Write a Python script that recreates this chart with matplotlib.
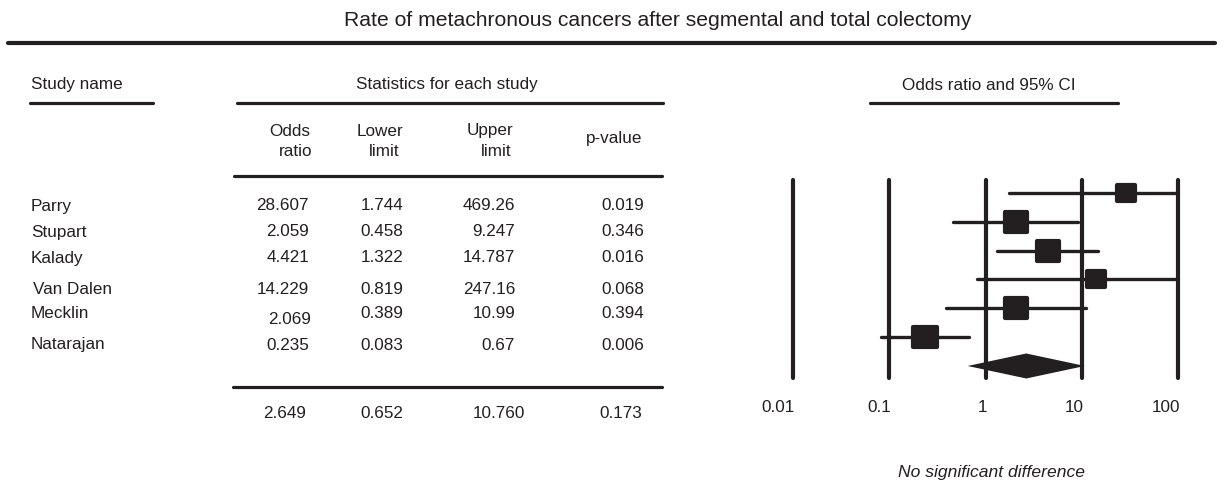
import numpy as np
import matplotlib
matplotlib.use("Agg")
import matplotlib.pyplot as plt
from matplotlib.markers import MarkerStyle
from matplotlib.path import Path
from matplotlib.transforms import blended_transform_factory, ScaledTranslation

plt.rcParams['font.family'] = ['Liberation Sans', 'DejaVu Sans']

# ---------------- data ----------------
title = "Rate of metachronous cancers after segmental and total colectomy"
studies = ["Parry", "Stupart", "Kalady", "Van Dalen", "Mecklin", "Natarajan"]
odds_ratio_txt = ["28.607", "2.059", "4.421", "14.229", "2.069", "0.235"]
lower_txt = ["1.744", "0.458", "1.322", "0.819", "0.389", "0.083"]
upper_txt = ["469.26", "9.247", "14.787", "247.16", "10.99", "0.67"]
p_txt = ["0.019", "0.346", "0.016", "0.068", "0.394", "0.006"]
summary_txt = ["2.649", "0.652", "10.760", "0.173"]   # OR, lower, upper, p
box_weight = [22, 27, 27, 23, 27, 28]                 # relative square size (as drawn)
tick_vals = [0.01, 0.1, 1, 10, 100]
tick_labels = ["0.01", "0.1", "1", "10", "100"]
footer = "No significant difference"

odds_ratio = [float(s) for s in odds_ratio_txt]
lower = [float(s) for s in lower_txt]
upper = [float(s) for s in upper_txt]
sum_or, sum_lo, sum_hi = (float(s) for s in summary_txt[:3])

INK = "#231f20"
W, H = 1225, 492
fig = plt.figure(figsize=(W / 100, H / 100), dpi=100)
fig.patch.set_facecolor("white")

# overlay axes in pixel units for table text and rules
ax0 = fig.add_axes([0, 0, 1, 1])
ax0.set_xlim(0, W)
ax0.set_ylim(H, 0)
ax0.axis("off")

TFS = 12.3
def rule(x0, x1, y, lw=2.3):
    ax0.plot([x0, x1], [y, y], color=INK, lw=lw, solid_capstyle="round")

ax0.text(658, 20, title, ha="center", va="center", fontsize=15.2, color=INK)
rule(8, 1215, 43, lw=3.0)

ax0.text(31, 85, "Study name", ha="left", va="center", fontsize=TFS, color=INK)
rule(30, 153, 103)
ax0.text(447, 85, "Statistics for each study", ha="center", va="center", fontsize=TFS, color=INK)
rule(237, 663, 103)
ax0.text(989, 85, "Odds ratio and 95% CI", ha="center", va="center", fontsize=TFS, color=INK)
rule(870, 1118, 103)

# column headers
col_right = [309, 403, 515, 644]
ax0.text(310, 131, "Odds", ha="right", va="center", fontsize=TFS, color=INK)
ax0.text(312, 151, "ratio", ha="right", va="center", fontsize=TFS, color=INK)
ax0.text(403, 131, "Lower", ha="right", va="center", fontsize=TFS, color=INK)
ax0.text(400, 151, "limit", ha="right", va="center", fontsize=TFS, color=INK)
ax0.text(513, 131, "Upper", ha="right", va="center", fontsize=TFS, color=INK)
ax0.text(512, 151, "limit", ha="right", va="center", fontsize=TFS, color=INK)
ax0.text(642, 139, "p-value", ha="right", va="center", fontsize=TFS, color=INK)
rule(234, 662, 176)

# table rows
row_y = [206, 232, 258, 289, 314, 345]
name_dx = [0, 0, 0, 2, 0, 0]
for i, name in enumerate(studies):
    y = row_y[i]
    ax0.text(31 + name_dx[i], y, name, ha="left", va="center", fontsize=TFS, color=INK)
    for j, col in enumerate([odds_ratio_txt, lower_txt, upper_txt, p_txt]):
        dy, dx = 0, 0
        if i == 4 and j == 0:      # this cell sits a little lower in the original
            dy, dx = 6, 2
        ax0.text(col_right[j] + dx, y + dy, col[i], ha="right", va="center",
                 fontsize=TFS, color=INK)

rule(233, 662, 387)
sum_right = [306, 403, 525, 642]
for j, s in enumerate(summary_txt):
    ax0.text(sum_right[j], 413, s, ha="right", va="center", fontsize=TFS, color=INK)

# ---------------- forest plot ----------------
x_left, x_right = 793, 1178
y_top, y_bot = 180, 378
row0, row_step = 193, 28.83
axf = fig.add_axes([x_left / W, 1 - y_bot / H, (x_right - x_left) / W, (y_bot - y_top) / H])
axf.set_xscale("log")
axf.set_xlim(tick_vals[0], tick_vals[-1])
axf.set_ylim((y_bot - row0) / row_step, (y_top - row0) / row_step)
axf.axis("off")
axf.patch.set_alpha(0)

for v in tick_vals:
    axf.axvline(v, ymin=0.0, ymax=1.0, color=INK, lw=3.0, solid_capstyle="round", clip_on=False)

# slightly wide rounded box marker
box_path = Path([(-0.5, -0.43), (0.5, -0.43), (0.5, 0.43), (-0.5, 0.43), (-0.5, -0.43)],
                [Path.MOVETO, Path.LINETO, Path.LINETO, Path.LINETO, Path.CLOSEPOLY])
sq = MarkerStyle(box_path, joinstyle="round")

xmax = tick_vals[-1]
for i in range(len(studies)):
    axf.plot([lower[i], min(upper[i], xmax)], [i, i], color=INK, lw=2.4,
             solid_capstyle="round", clip_on=False, zorder=3)
    mew = 3.0
    ms = box_weight[i] * 0.72 - mew
    axf.plot([odds_ratio[i]], [i], marker=sq, ms=ms, mfc=INK, mec=INK, mew=mew,
             ls="none", clip_on=False, zorder=4)

yd = len(studies)
hh = 12.5 / row_step
axf.fill([sum_lo, sum_or, sum_hi, sum_or], [yd, yd - hh, yd, yd + hh],
         color=INK, lw=0, clip_on=False, zorder=4)

trans = blended_transform_factory(axf.transData, ax0.transData)
for v, lab in zip(tick_vals, tick_labels):
    ax0.text(v, 407, lab, transform=trans + ScaledTranslation(2 / 100, 0, fig.dpi_scale_trans),
             ha="right", va="center", fontsize=12.3, color=INK)

ax0.text(991, 472, footer, ha="center", va="center", fontsize=12.6, style="italic", color=INK)

fig.savefig("out.png", dpi=100, facecolor="white")
